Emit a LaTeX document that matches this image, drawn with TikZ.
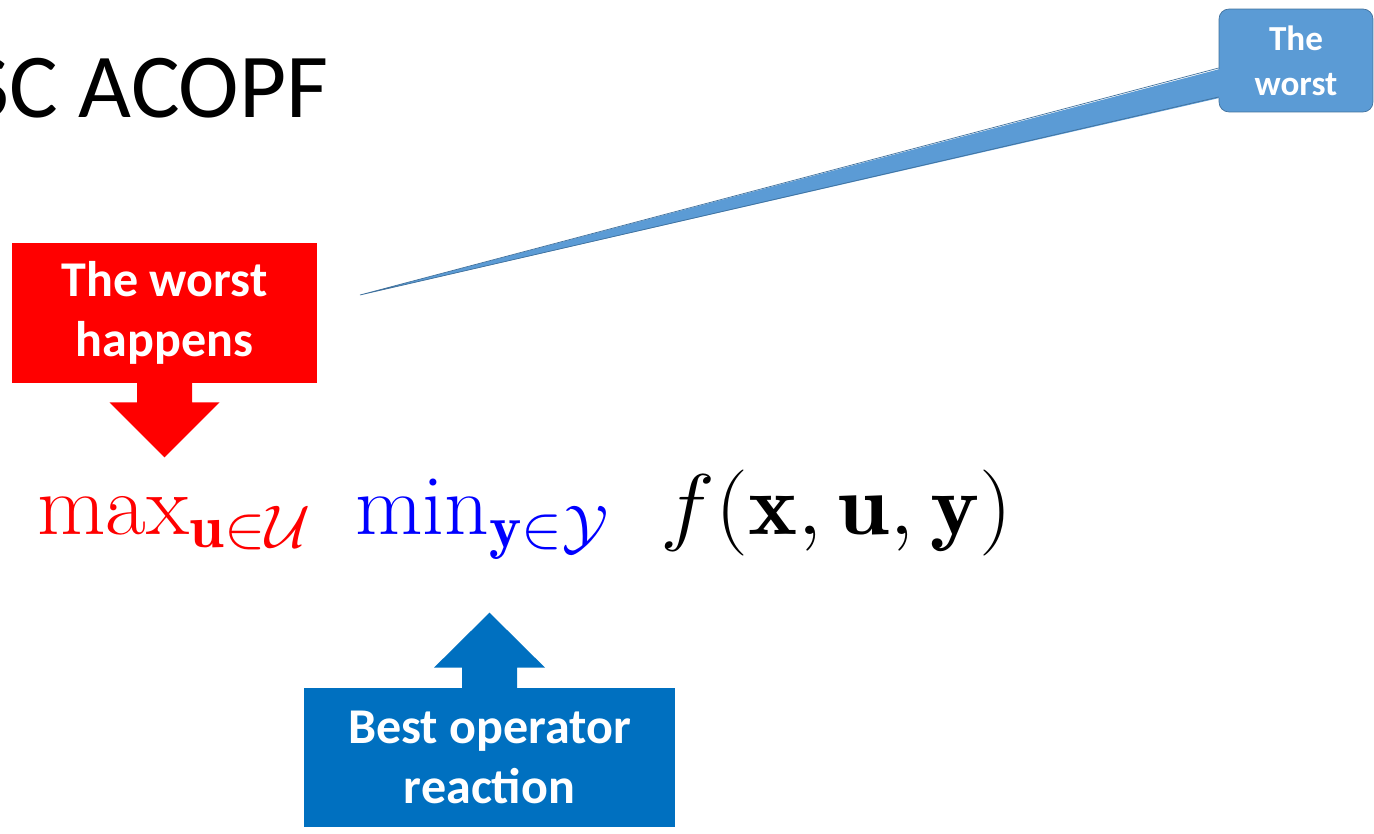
\RequirePackage{fix-cm}
\documentclass[tikz,border=0pt]{standalone}
\usepackage{fontspec}
\usepackage{amsmath}
\usepackage{graphicx}
\newfontfamily\calibri{Carlito}
\usetikzlibrary{positioning}
\definecolor{worstred}{RGB}{255,0,0}
\definecolor{opblue}{RGB}{0,112,192}
\definecolor{mathblue}{RGB}{0,0,255}
\definecolor{calloutfill}{RGB}{91,155,213}
\definecolor{calloutline}{RGB}{65,113,156}
\tikzstyle{banner}=[inner sep=0pt,align=center,text=white,font=\calibri\bfseries\fontsize{28.5}{34}\selectfont]
\tikzstyle{opmath}=[inner sep=0pt,anchor=base west,font=\fontsize{49}{58}\selectfont]

\begin{document}
\begin{tikzpicture}[x=0.02cm,y=-0.02cm]
  \clip (0,0) rectangle (1374,834);
  % title, cut at the left edge
  \node[anchor=base east,inner sep=0pt,font=\calibri\fontsize{52}{62}\selectfont] (title) at (329,118) {SC ACOPF};
  % the objective
  \node[opmath,text=worstred] (maxop) at (37,535) {\scalebox{1.03}[1]{$\max_{\mathbf{u}\in\mathcal{U}}$}};
  \node[opmath,text=mathblue] (minop) at (355,535) {\scalebox{1.016}[1]{$\min_{\mathbf{y}\in\mathcal{Y}}$}};
  \node[opmath] (fobj) at (660,535) {\scalebox{1.08}[1]{$f(\mathbf{x},\mathbf{u},\mathbf{y})$}};
  % red banner pointing down
  \node[banner,fill=worstred,minimum width=6.1cm,minimum height=2.8cm] (worst) at (164.5,313) {The worst\\happens};
  \begin{scope}[shift={(worst.south)}]
    \fill[worstred] (-27.5,-1) -- (-27.5,19) -- (-55,19) -- (0,74) -- (55,19) -- (27.5,19) -- (27.5,-1) -- cycle;
  \end{scope}
  % blue banner pointing up
  \node[banner,fill=opblue,minimum width=7.42cm,minimum height=2.78cm] (react) at (489.5,757.5) {Best operator\\reaction};
  \begin{scope}[shift={(react.north)}]
    \fill[opblue] (-27.5,1) -- (-27.5,-20) -- (-55.5,-20) -- (0,-75) -- (55.5,-20) -- (27.5,-20) -- (27.5,1) -- cycle;
  \end{scope}
  % callout at the top right
  \coordinate (calltip) at (360,295);
  \node[inner sep=0pt,align=center,text=white,fill=calloutfill,draw=calloutline,rounded corners=0.2cm,
        minimum width=3.08cm,minimum height=2.06cm,font=\calibri\bfseries\fontsize{20}{25.6}\selectfont] (callout) at (1296,60.5) {The\\worst};
  \fill[calloutfill] ([xshift=0.1cm,yshift=-0.15cm]callout.west) -- (calltip) -- ([xshift=0.1cm,yshift=-0.73cm]callout.west) -- cycle;
  \draw[calloutline] ([yshift=-0.15cm]callout.west) -- (calltip) -- ([yshift=-0.73cm]callout.west);
\end{tikzpicture}
\end{document}
